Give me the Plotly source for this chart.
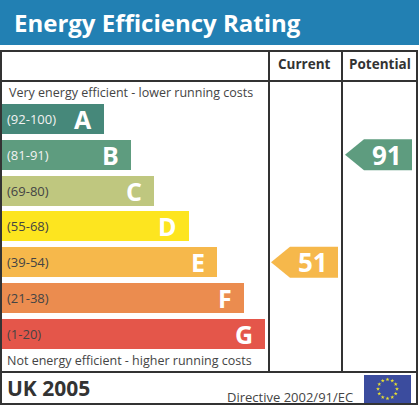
import math
import plotly.graph_objects as go

# --- data ---
letters = ['A', 'B', 'C', 'D', 'E', 'F', 'G']
bands = ['(92-100)', '(81-91)', '(69-80)', '(55-68)', '(39-54)', '(21-38)', '(1-20)']
band_low = [92, 81, 69, 55, 39, 21, 1]
colours = ['#46887a', '#5e9c7f', '#bfc77f', '#fde51f', '#f6b84b', '#eb8c4f', '#e4564a']
current = 51
potential = 91

# --- layout constants (pixels) ---
W, H = 419, 406
bar_ends = [104, 131, 154, 189, 217, 244, 265]
row0, pitch = 119, 35.8
FONT = 'Open Sans'
LINE = '#333333'


def band_of(v):
    for i, lo in enumerate(band_low):
        if v >= lo:
            return i
    return len(band_low) - 1


fig = go.Figure()

# rating bars
fig.add_trace(go.Bar(
    y=list(range(len(letters))), x=[e - 2 for e in bar_ends], base=2,
    orientation='h', width=30 / pitch,
    marker=dict(color=colours, line_width=0),
    hoverinfo='skip', showlegend=False,
))

annotations = []
for i, (lt, bd) in enumerate(zip(letters, bands)):
    annotations.append(dict(x=5, y=i, xref='x', yref='y', text=bd, showarrow=False,
                            xanchor='left', font=dict(family=FONT, size=13,
                                                      color='#f2f2f2' if i < 2 else '#444444')))
    annotations.append(dict(x=bar_ends[i] - 10, y=i, xref='x', yref='y', text='<b>%s</b>' % lt,
                            showarrow=False, xanchor='right',
                            font=dict(family=FONT, size=25, color='white')))


# pointer arrows for current / potential
def arrow(value, x0, x1):
    r = band_of(value)
    h = 15.5 / pitch
    tip = 19
    xs = [x0, x0 + tip, x1, x1, x0 + tip, x0]
    ys = [r, r - h, r - h, r + h, r + h, r]
    fig.add_trace(go.Scatter(x=xs, y=ys, fill='toself', fillcolor=colours[r], mode='lines',
                             line=dict(width=0, color=colours[r]), hoverinfo='skip',
                             showlegend=False))
    annotations.append(dict(x=x1 - 8, y=r, xref='x', yref='y', text='<b>%d</b>' % value,
                            showarrow=False, xanchor='right',
                            font=dict(family=FONT, size=26, color='white')))


arrow(current, 271, 338)
arrow(potential, 345, 412)

shapes = [
    # title band
    dict(type='rect', xref='x', yref='y2', x0=0, x1=W, y0=0, y1=45, fillcolor='#2280b3', line_width=0, layer='below'),
    # table frame
    dict(type='rect', xref='x', yref='y2', x0=1, x1=417, y0=51, y1=372, line=dict(color=LINE, width=2)),
    dict(type='line', xref='x', yref='y2', x0=1, x1=417, y0=81, y1=81, line=dict(color=LINE, width=2)),
    dict(type='line', xref='x', yref='y2', x0=269, x1=269, y0=51, y1=372, line=dict(color=LINE, width=2)),
    dict(type='line', xref='x', yref='y2', x0=342, x1=342, y0=51, y1=372, line=dict(color=LINE, width=2)),
    # footer box
    dict(type='rect', xref='x', yref='y2', x0=1, x1=417, y0=372, y1=404, line=dict(color=LINE, width=2)),
    # EU flag
    dict(type='rect', xref='x', yref='y2', x0=364, x1=411, y0=375, y1=403, fillcolor='#3b4c9e',
         line_width=0, layer='below'),
]

# stars on the flag
sx = [387.5 + 9.5 * math.cos(k * math.pi / 6) for k in range(12)]
sy = [389 + 9.5 * math.sin(k * math.pi / 6) for k in range(12)]
fig.add_trace(go.Scatter(x=sx, y=sy, yaxis='y2', mode='markers',
                         marker=dict(symbol='star', size=3, color='#e8e030', line_width=0),
                         hoverinfo='skip', showlegend=False))

annotations += [
    dict(x=12, y=22, xref='x', yref='y2', text='<b>Energy Efficiency Rating</b>', showarrow=False,
         xanchor='left', font=dict(family=FONT, size=24, color='white')),
    dict(x=304, y=64, xref='x', yref='y2', text='<b>Current</b>', showarrow=False,
         font=dict(family=FONT, size=13.5, color='#333333')),
    dict(x=379.5, y=64, xref='x', yref='y2', text='<b>Potential</b>', showarrow=False,
         font=dict(family=FONT, size=13.5, color='#333333')),
    dict(x=7, y=92, xref='x', yref='y2', text='Very energy efficient - lower running costs', showarrow=False,
         xanchor='left', font=dict(family=FONT, size=12.5, color='#444444')),
    dict(x=5, y=360, xref='x', yref='y2', text='Not energy efficient - higher running costs', showarrow=False,
         xanchor='left', font=dict(family=FONT, size=12.5, color='#444444')),
    dict(x=5, y=388, xref='x', yref='y2', text='<b>UK 2005</b>', showarrow=False,
         xanchor='left', font=dict(family=FONT, size=21, color='#333333')),
    dict(x=355, y=397, xref='x', yref='y2', text='Directive 2002/91/EC', showarrow=False,
         xanchor='right', font=dict(family=FONT, size=13, color='#444444')),
]

fig.update_layout(
    width=W, height=H, margin=dict(l=0, r=0, t=0, b=0),
    paper_bgcolor='white', plot_bgcolor='white',
    xaxis=dict(range=[0, W], visible=False, fixedrange=True),
    yaxis=dict(range=[(H - row0) / pitch, -row0 / pitch], visible=False, fixedrange=True),
    yaxis2=dict(range=[H, 0], overlaying='y', visible=False, fixedrange=True),
    shapes=shapes, annotations=annotations, bargap=0,
)

fig.write_html('out.html', config={'displayModeBar': False},
               post_script="document.body.style.margin='0';document.body.style.overflow='hidden';")
